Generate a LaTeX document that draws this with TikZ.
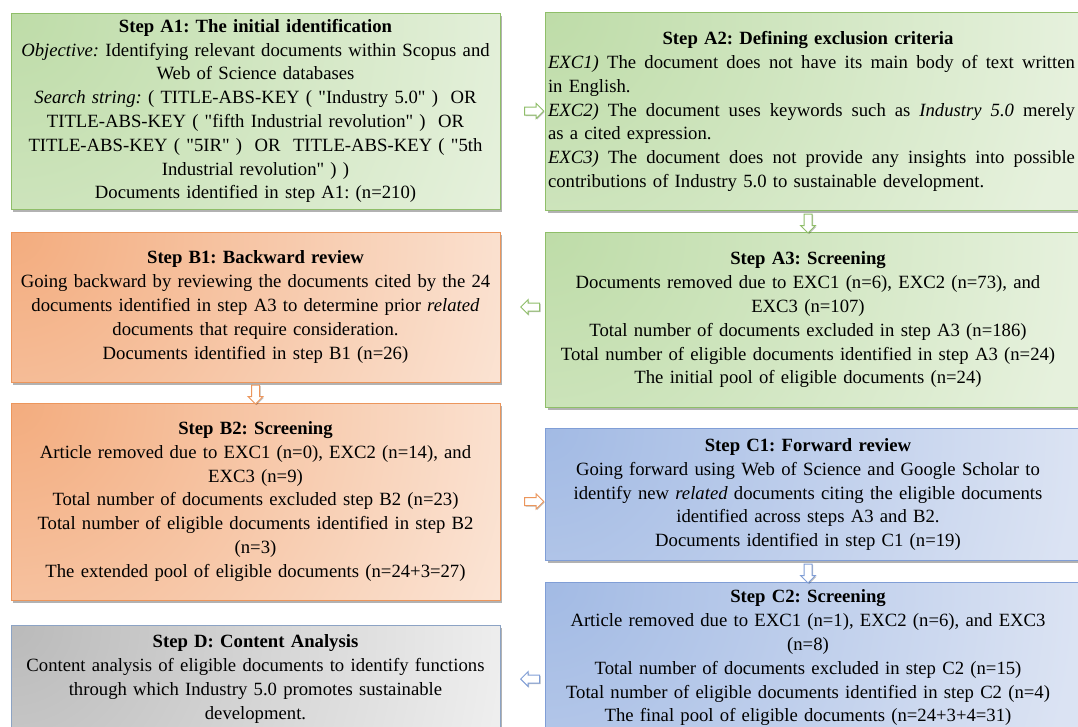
\documentclass[tikz,border=0pt]{standalone}
\usepackage{fontspec}
\setmainfont{Liberation Serif}
\usepackage{tikz}
\usetikzlibrary{shapes.arrows, shadows, backgrounds, calc}

\definecolor{greenline}{RGB}{143,190,105}
\definecolor{greendark}{RGB}{190,220,168}
\definecolor{greenlight}{RGB}{230,241,221}
\definecolor{orangeline}{RGB}{236,150,92}
\definecolor{orangedark}{RGB}{243,172,126}
\definecolor{orangelight}{RGB}{251,229,214}
\definecolor{blueline}{RGB}{128,158,214}
\definecolor{bluedark}{RGB}{162,186,228}
\definecolor{bluelight}{RGB}{219,227,243}
\definecolor{grayline}{RGB}{140,163,196}
\definecolor{graydark}{RGB}{186,186,186}
\definecolor{graylight}{RGB}{242,242,242}

\pgfdeclareradialshading{greenglow}{\pgfpoint{0bp}{0bp}}{color(0bp)=(greendark); color(19bp)=(greenlight); color(50bp)=(greenlight)}
\pgfdeclareradialshading{orangeglow}{\pgfpoint{0bp}{0bp}}{color(0bp)=(orangedark); color(19bp)=(orangelight); color(50bp)=(orangelight)}
\pgfdeclareradialshading{blueglow}{\pgfpoint{0bp}{0bp}}{color(0bp)=(bluedark); color(19bp)=(bluelight); color(50bp)=(bluelight)}
\pgfdeclareradialshading{grayglow}{\pgfpoint{0bp}{0bp}}{color(0bp)=(graydark); color(19bp)=(graylight); color(50bp)=(graylight)}

\newcommand{\stepfont}{\fontsize{18.7}{23.8}\selectfont\frenchspacing}
\newcommand{\dq}{\textquotedbl}
\newcommand{\fullline}[1]{\leavevmode\hbox to 527pt{\spaceskip=0.25em plus 1em\relax #1}}

\tikzstyle{stepbox} = [rectangle, text width=485pt, inner xsep=2pt, inner ysep=0pt, align=center, font=\stepfont]
\tikzstyle{boxshadow} = [drop shadow={shadow xshift=2pt, shadow yshift=-2.5pt, opacity=0.3, fill=black}]
\tikzstyle{glow} = [path picture={\shade[shading=#1] ([shift={(-700pt,700pt)}]path picture bounding box.north west) rectangle ([shift={(700pt,-700pt)}]path picture bounding box.north west);}]
\tikzstyle{greenbox} = [draw=greenline, line width=1pt, fill=greenlight, glow=greenglow, boxshadow]
\tikzstyle{orangebox} = [draw=orangeline, line width=1pt, fill=orangelight, glow=orangeglow, boxshadow]
\tikzstyle{bluebox} = [draw=blueline, line width=1pt, fill=bluelight, glow=blueglow, boxshadow]
\tikzstyle{graybox} = [draw=grayline, line width=1pt, fill=graylight, glow=grayglow, boxshadow]
\tikzstyle{blockarr} = [single arrow, fill=white, line width=1pt, minimum height=19pt, minimum width=15pt, single arrow head extend=3.5pt, inner sep=3.5pt, drop shadow={shadow xshift=1pt, shadow yshift=-1pt, opacity=0.25, fill=black}]

\begin{document}
\begin{tikzpicture}[x=1pt, y=-1pt]
	\useasboundingbox (0,0) rectangle (1078,726);
	\clip (0,0) rectangle (1078,726);

	% left column
	\node (a1) [stepbox, greenbox, minimum height=196pt] at (255.5,111) {\textbf{Step A1: The initial identification}\\
		\textit{Objective:} Identifying relevant documents within Scopus and\\
		Web of Science databases\\
		\textit{Search string:} ( TITLE-ABS-KEY ( \dq Industry 5.0\dq{} )~ OR\\
		TITLE-ABS-KEY ( \dq fifth Industrial revolution\dq{} )~ OR\\
		TITLE-ABS-KEY ( \dq 5IR\dq{} )~ OR~ TITLE-ABS-KEY ( \dq 5th\\
		Industrial revolution\dq{} ) )\\
		Documents identified in step A1: (n=210)};
	\node (b1) [stepbox, orangebox, minimum height=150pt] at (255.5,307) {\textbf{Step B1: Backward review}\\
		Going backward by reviewing the documents cited by the 24\\
		documents identified in step A3 to determine prior \textit{related}\\
		documents that require consideration.\\
		Documents identified in step B1 (n=26)};
	\node (b2) [stepbox, orangebox, minimum height=197pt] at (255.5,501.5) {\textbf{Step B2: Screening}\\
		Article removed due to EXC1 (n=0), EXC2 (n=14), and\\
		EXC3 (n=9)\\
		Total number of documents excluded step B2 (n=23)\\
		Total number of eligible documents identified in step B2\\
		(n=3)\\
		The extended pool of eligible documents (n=24+3=27)};
	\node (d) [stepbox, graybox, minimum height=108pt] at (255.5,679) {\textbf{Step D: Content Analysis}\\
		Content analysis of eligible documents to identify functions\\
		through which Industry 5.0 promotes sustainable\\
		development.};

	% right column
	\node (a2) [stepbox, text width=520pt, align=left, minimum height=197pt] at (808,111.5) {\makebox[520pt]{\textbf{Step A2: Defining exclusion criteria}}\\
		\fullline{\textit{EXC1)} The document does not have its main body of text written}\\
		in English.\\
		\fullline{\textit{EXC2)} The document uses keywords such as \textit{Industry 5.0} merely}\\
		as a cited expression.\\
		\fullline{\textit{EXC3)} The document does not provide any insights into possible}\\
		contributions of Industry 5.0 to sustainable development.};
	\node (a3) [stepbox, text width=520pt, minimum height=174pt] at (808,320) {\textbf{Step A3: Screening}\\
		Documents removed due to EXC1 (n=6), EXC2 (n=73), and\\
		EXC3 (n=107)\\
		Total number of documents excluded in step A3 (n=186)\\
		Total number of eligible documents identified in step A3 (n=24)\\
		The initial pool of eligible documents (n=24)};
	\node (c1) [stepbox, text width=520pt, minimum height=131pt] at (808,494.5) {\textbf{Step C1: Forward review}\\
		Going forward using Web of Science and Google Scholar to\\
		identify new \textit{related} documents citing the eligible documents\\
		identified across steps A3 and B2.\\
		Documents identified in step C1 (n=19)};
	\node (c2) [stepbox, text width=520pt, minimum height=150pt] at (808,658) {\textbf{Step C2: Screening}\\
		Article removed due to EXC1 (n=1), EXC2 (n=6), and EXC3\\
		(n=8)\\
		Total number of documents excluded in step C2 (n=15)\\
		Total number of eligible documents identified in step C2 (n=4)\\
		The final pool of eligible documents (n=24+3+4=31)};

	\begin{scope}[on background layer]
		\path [greenbox] (a2.north west) rectangle ([xshift=40pt]a2.south east);
		\path [greenbox] (a3.north west) rectangle ([xshift=40pt]a3.south east);
		\path [bluebox] (c1.north west) rectangle ([xshift=40pt]c1.south east);
		\path [bluebox] (c2.north west) rectangle ([xshift=40pt]c2.south east);
	\end{scope}

	% block arrows
	\node (a1a2) [blockarr, draw=greenline] at ($(a1.east)!0.7!(a1.east -| a2.west)$) {};
	\node (a2a3) [blockarr, draw=greenline, shape border rotate=270] at ($(a2.south)!0.5!(a3.north)$) {};
	\node (a3b1) [blockarr, draw=greenline, shape border rotate=180] at ($(b1.east)!0.7!(b1.east -| a3.west)$) {};
	\node (b1b2) [blockarr, draw=orangeline, shape border rotate=270] at ($(b1.south)!0.5!(b2.north)$) {};
	\node (b2c1) [blockarr, draw=orangeline] at ($(b2.east)!0.7!(b2.east -| c1.west)$) {};
	\node (c1c2) [blockarr, draw=blueline, shape border rotate=270] at ($(c1.south)!0.5!(c2.north)$) {};
	\node (c2d) [blockarr, draw=blueline, shape border rotate=180] at ($(d.east)!0.7!(d.east -| c2.west)$) {};

\end{tikzpicture}
\end{document}
